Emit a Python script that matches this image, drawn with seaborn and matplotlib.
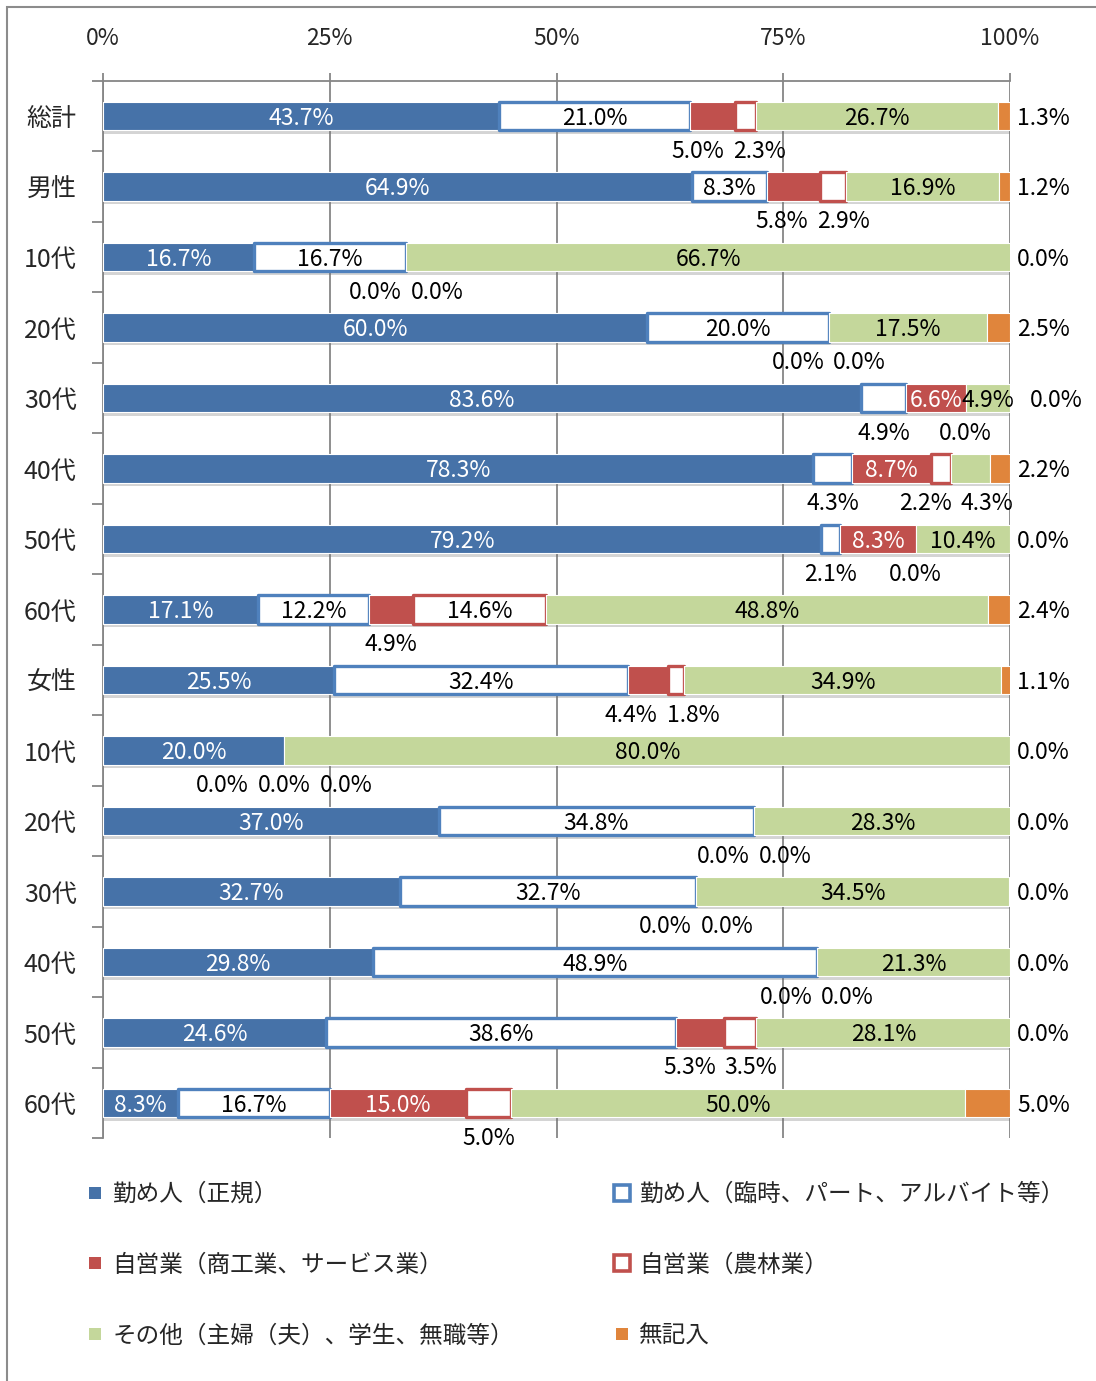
import numpy as np
import pandas as pd
import matplotlib
matplotlib.use("Agg")
import matplotlib.pyplot as plt
import matplotlib.patheffects as pe
from matplotlib.lines import Line2D
from matplotlib.patches import Rectangle
import seaborn as sns

# ---------------- data ----------------
row_keys = ["total", "male", "m10", "m20", "m30", "m40", "m50", "m60",
            "female", "f10", "f20", "f30", "f40", "f50", "f60"]
row_labels = ["総計", "男性", "10代", "20代", "30代", "40代", "50代", "60代",
              "女性", "10代", "20代", "30代", "40代", "50代", "60代"]
series_names = ["勤め人（正規）", "勤め人（臨時、パート、アルバイト等）",
                "自営業（商工業、サービス業）", "自営業（農林業）",
                "その他（主婦（夫）、学生、無職等）", "無記入"]

regular  = [43.7, 64.9, 16.7, 60.0, 83.6, 78.3, 79.2, 17.1, 25.5, 20.0, 37.0, 32.7, 29.8, 24.6, 8.3]
parttime = [21.0, 8.3, 16.7, 20.0, 4.9, 4.3, 2.1, 12.2, 32.4, 0.0, 34.8, 32.7, 48.9, 38.6, 16.7]
selfemp  = [5.0, 5.8, 0.0, 0.0, 6.6, 8.7, 8.3, 4.9, 4.4, 0.0, 0.0, 0.0, 0.0, 5.3, 15.0]
farming  = [2.3, 2.9, 0.0, 0.0, 0.0, 2.2, 0.0, 14.6, 1.8, 0.0, 0.0, 0.0, 0.0, 3.5, 5.0]
other    = [26.7, 16.9, 66.7, 17.5, 4.9, 4.3, 10.4, 48.8, 34.9, 80.0, 28.3, 34.5, 21.3, 28.1, 50.0]
noanswer = [1.3, 1.2, 0.0, 2.5, 0.0, 2.2, 0.0, 2.4, 1.1, 0.0, 0.0, 0.0, 0.0, 0.0, 5.0]

tick_vals = [0, 25, 50, 75, 100]
tick_labels = ["0%", "25%", "50%", "75%", "100%"]

# ---------------- style ----------------
BLUE = "#4672A8"
BLUE_EDGE = "#4F81BD"
RED = "#C0504D"
GREEN = "#C4D79B"
ORANGE = "#E0853C"
GRID = "#868686"

series_style = [
    dict(face=BLUE, edge="white", lw=0.8, outline=False, txt="white"),
    dict(face="white", edge=BLUE_EDGE, lw=2.4, outline=True, txt="black"),
    dict(face=RED, edge="white", lw=0.8, outline=False, txt="white"),
    dict(face="white", edge=RED, lw=2.4, outline=True, txt="black"),
    dict(face=GREEN, edge="white", lw=0.8, outline=False, txt="black"),
    dict(face=ORANGE, edge="white", lw=0.8, outline=False, txt="black"),
]

sns.set_theme(style="white")
plt.rcParams["font.family"] = ["Noto Sans CJK JP", "DejaVu Sans"]

W, H = 1096, 1381
fig = plt.figure(figsize=(W / 100, H / 100), dpi=100)
ax = fig.add_axes([103 / W, 1 - 1138.25 / H, 907 / W, 1057.5 / H])

cols = ["regular", "parttime", "selfemp", "farming", "other", "noanswer"]
df = pd.DataFrame({"key": row_keys, "regular": regular, "parttime": parttime,
                   "selfemp": selfemp, "farming": farming, "other": other,
                   "noanswer": noanswer})
vals = df[cols].to_numpy().T  # 6 x 15
lefts = np.vstack([np.zeros(vals.shape[1]), np.cumsum(vals, axis=0)[:-1]])

shadow = [pe.SimplePatchShadow(offset=(0.5, -2.5), shadow_rgbFace=(0.45, 0.45, 0.45), alpha=0.3),
          pe.Normal()]

for s, col in enumerate(cols):
    st = series_style[s]
    sns.barplot(data=df, x=col, y="key", order=row_keys, orient="h",
                left=lefts[s], color=st["face"], saturation=1, width=0.41,
                edgecolor=st["edge"], linewidth=st["lw"], errorbar=None,
                ax=ax, zorder=3)
    for p, v in zip(ax.containers[-1], vals[s]):
        if v == 0:
            p.set_visible(False)
        else:
            p.set_joinstyle("round")
            p.set_path_effects(shadow)

# ---------------- labels ----------------
FS_NUM = 16.5
inside_exceptions = {(4, 4)}
MIN_SEP = 6.8
BELOW = 0.50
DY = 0.03

def spread(items):
    # items: list of (center, text); returns list of (x, text)
    items = sorted(items, key=lambda t: t[0])
    clusters = [[it] for it in items]
    changed = True
    while changed:
        changed = False
        for k in range(len(clusters) - 1):
            a, b = clusters[k], clusters[k + 1]
            ma = np.mean([t[0] for t in a]); mb = np.mean([t[0] for t in b])
            ra = ma + (len(a) - 1) / 2 * MIN_SEP
            lb = mb - (len(b) - 1) / 2 * MIN_SEP
            if lb - ra < MIN_SEP:
                clusters[k] = a + b
                del clusters[k + 1]
                changed = True
                break
    out = []
    for c in clusters:
        m = np.mean([t[0] for t in c]); n = len(c)
        for j, t in enumerate(c):
            out.append((m + (j - (n - 1) / 2) * MIN_SEP, t[1]))
    return out

for i in range(vals.shape[1]):
    below = []
    for s in range(6):
        v = vals[s, i]
        txt = f"{v:.1f}%"
        if s == 5:
            # push the outside label right when a narrow inside label spills over the end
            xr = 100.8 + (1.4 if (i, 4) in inside_exceptions else 0.0)
            ax.text(xr, i + DY, txt, ha="left", va="center", fontsize=FS_NUM,
                    color="black", zorder=5)
        elif v >= 6 or (i, s) in inside_exceptions:
            ax.text(lefts[s, i] + v / 2, i + DY, txt, ha="center", va="center",
                    fontsize=FS_NUM, color=series_style[s]["txt"], zorder=5)
        else:
            below.append((lefts[s, i] + v / 2, txt))
    for x, txt in spread(below):
        ax.text(x, i + BELOW, txt, ha="center", va="center", fontsize=FS_NUM,
                color="black", zorder=5)

# ---------------- axes ----------------
ax.set_xlim(0, 100)
ax.set_ylim(len(row_keys) - 0.5, -0.5)
ax.set_xlabel("")
ax.set_ylabel("")
ax.xaxis.tick_top()
ax.set_xticks(tick_vals, labels=tick_labels)
ax.tick_params(axis="x", which="major", top=True, bottom=False, length=6,
               width=1.3, color=GRID, pad=16, labelsize=FS_NUM)
ax.set_yticks(range(len(row_keys)), labels=row_labels)
ax.tick_params(axis="y", which="major", left=False, length=0, pad=19, labelsize=18)
ax.set_yticks(np.arange(-0.5, len(row_keys), 1), minor=True)
ax.tick_params(axis="y", which="minor", left=True, length=8, width=1.3, color=GRID)
ax.grid(axis="x", color=GRID, lw=1.3)
ax.grid(axis="y", visible=False)
ax.set_axisbelow(True)
for side in ["right", "bottom"]:
    ax.spines[side].set_visible(False)
for side in ["top", "left"]:
    ax.spines[side].set_color(GRID)
    ax.spines[side].set_linewidth(1.3)

# ---------------- legend ----------------
order = [0, 2, 4, 1, 3, 5]
handles = []
for s in order:
    st = series_style[s]
    if st["outline"]:
        h = Line2D([], [], marker="s", ls="none", markersize=11,
                   markerfacecolor="white", markeredgecolor=st["edge"], markeredgewidth=2.6)
    else:
        h = Line2D([], [], marker="s", ls="none", markersize=8.5,
                   markerfacecolor=st["face"], markeredgewidth=0)
    handles.append(h)
fig.legend(handles, [series_names[s] for s in order], loc="upper left",
           bbox_to_anchor=(84 / W, 1 - 1183 / H), ncol=2, frameon=False,
           fontsize=17, handlelength=0.95, handletextpad=0.25, labelspacing=2.02,
           columnspacing=4.1, borderaxespad=0, borderpad=0)

fig.add_artist(Rectangle((7 / W, -0.05), 1.2, 1.05 - 7 / H, transform=fig.transFigure,
                         fill=False, edgecolor="#8C8C8C", lw=1.5))

fig.savefig("out.png", dpi=100, facecolor="white")
